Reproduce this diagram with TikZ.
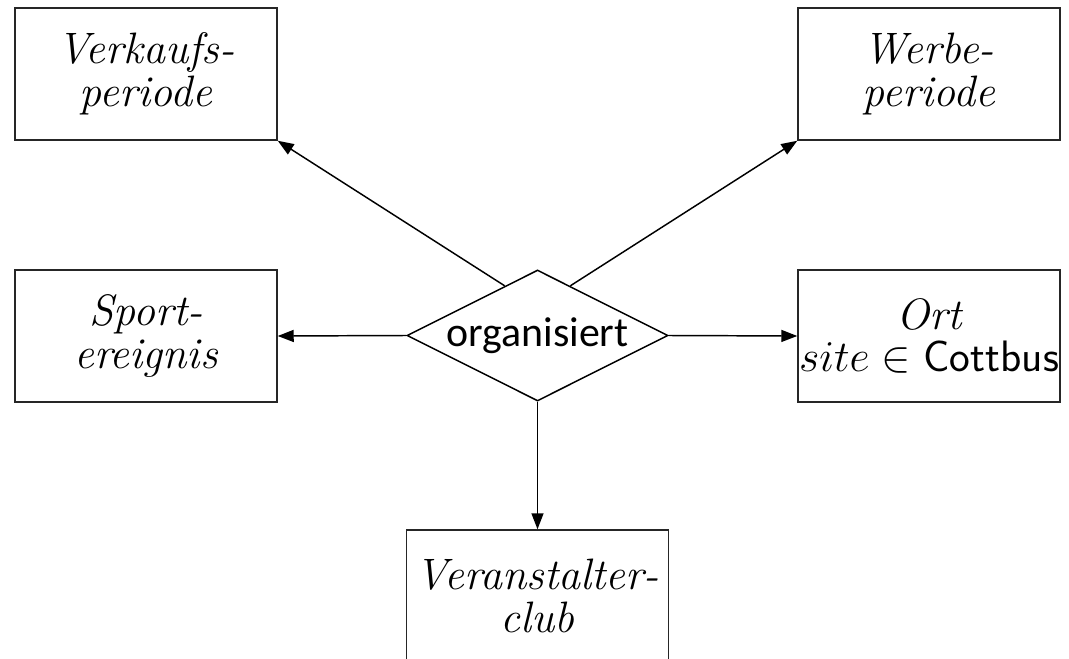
\documentclass[tikz,border=0pt]{standalone}
\usepackage{fix-cm}
\usepackage{fontspec}
\newfontfamily\diafont{Carlito}
\usetikzlibrary{shapes.geometric,arrows.meta,calc}
\begin{document}
\begin{tikzpicture}[x=0.75pt,y=-0.75pt,
  ent/.style={draw=black!85, line width=1.1pt, minimum width=196.5pt, minimum height=99pt,
    inner sep=0pt, align=center, font=\fontsize{33}{32}\selectfont\itshape},
  rel/.style={draw, diamond, line width=1.1pt, minimum width=195.75pt, minimum height=98.25pt,
    inner sep=0pt, font=\diafont\fontsize{31.4}{36}\selectfont},
  conn/.style={line width=1.1pt, -{Triangle[length=12pt,width=9pt]}}]
\useasboundingbox[fill=white] (0,0) rectangle (1069,659);
\node[ent] (vk) at (146,74) {Verkaufs-\\periode};
\node[ent] (wb) at (929,74) {Werbe-\\periode};
\node[ent] (sp) at (146,336) {Sport-\\ereignis};
\node[ent] (ort) at (929,336) {Ort\\$site \in \mathsf{Cottbus}$};
\node[ent] (vc) at (537.5,596) {Veranstalter-\\club};
\node[rel] (d) at (537.5,335.5) {\makebox[0pt]{organisiert}};
\coordinate (dl) at ($(d.north)!0.25!(d.west)$);
\coordinate (dr) at ($(d.north)!0.25!(d.east)$);
\draw[conn] (dl) -- (vk.south east);
\draw[conn] (dr) -- (wb.south west);
\draw[conn] (d.west) -- (sp.east);
\draw[conn] (d.east) -- (ort.west);
\draw[conn] (d.south) -- (vc.north);
\end{tikzpicture}
\end{document}
